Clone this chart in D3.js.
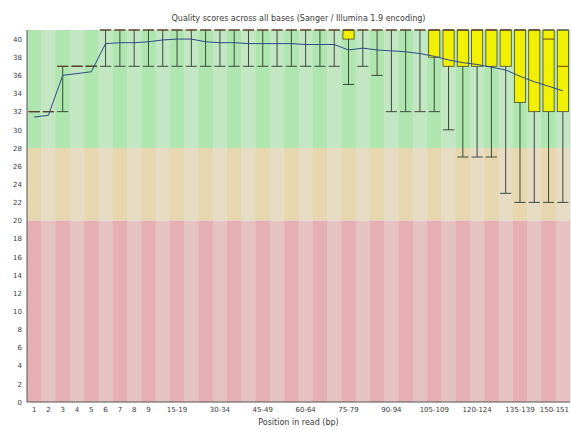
<!DOCTYPE html>
<html>
<head>
<meta charset="utf-8">
<script src="https://cdn.jsdelivr.net/npm/d3@7"></script>
<style>
  html, body { margin: 0; padding: 0; background: #ffffff; }
  svg { display: block; }
  text { font-family: "DejaVu Sans", sans-serif; fill: #3a3a3a; }
</style>
</head>
<body>
<svg id="chart" width="571" height="430"></svg>
<script>
// ---- data ----
const categories = ["1","2","3","4","5","6","7","8","9",
  "10-14","15-19","20-24","25-29","30-34","35-39","40-44","45-49","50-54","55-59",
  "60-64","65-69","70-74","75-79","80-84","85-89","90-94","95-99","100-104","105-109",
  "110-114","115-119","120-124","125-129","130-134","135-139","140-144","145-149","150-151"];
const xTickLabels = ["1","2","3","4","5","6","7","8","9","15-19","30-34","45-49","60-64",
  "75-79","90-94","105-109","120-124","135-139","150-151"];
const yTickLabels = [0,2,4,6,8,10,12,14,16,18,20,22,24,26,28,30,32,34,36,38,40];
const meanQ = [31.4,31.6,36.0,36.2,36.4,39.5,39.6,39.6,39.7,39.9,40.0,40.0,39.7,39.6,39.6,39.5,39.5,39.5,39.5,39.4,39.4,39.4,
  38.8,39.0,38.8,38.7,38.6,38.4,38.1,37.7,37.4,37.2,36.9,36.6,35.9,35.3,34.8,34.3];
const p10Q = [32,32,32,37,37,37,37,37,37,37,37,37,37,37,37,37,37,37,37,37,37,37,
  35,37,36,32,32,32,32,30,27,27,27,23,22,22,22,22];
const q1Q = [32,32,37,37,37,41,41,41,41,41,41,41,41,41,41,41,41,41,41,41,41,41,
  40,41,41,41,41,41,38,37,37,37,37,37,33,32,32,32];
const medianQ = [32,32,37,37,37,41,41,41,41,41,41,41,41,41,41,41,41,41,41,41,41,41,
  41,41,41,41,41,41,41,41,41,41,41,41,41,41,40,37];
const q3Q = [32,32,37,37,37,41,41,41,41,41,41,41,41,41,41,41,41,41,41,41,41,41,
  41,41,41,41,41,41,41,41,41,41,41,41,41,41,41,41];
const p90Q = [32,32,37,37,37,41,41,41,41,41,41,41,41,41,41,41,41,41,41,41,41,41,
  41,41,41,41,41,41,41,41,41,41,41,41,41,41,41,41];
const zones = [
  {from: 28, to: 41, light: "rgb(195,230,195)", dark: "rgb(175,230,175)"},
  {from: 20, to: 28, light: "rgb(230,220,195)", dark: "rgb(230,215,175)"},
  {from: 0,  to: 20, light: "rgb(230,195,195)", dark: "rgb(230,175,180)"}
];
const titleText = "Quality scores across all bases (Sanger / Illumina 1.9 encoding)";
const xTitle = "Position in read (bp)";

// ---- layout ----
const svg = d3.select("#chart");
const mLeft = 27, mRight = 570, mTop = 30, mBottom = 402;

const x = d3.scaleBand().domain(categories).range([mLeft, mRight]).padding(0);
const y = d3.scaleLinear().domain([0, 41]).range([mBottom, mTop]);
const bw = x.bandwidth();
const boxW = bw * 0.78;

// background stripes
const bg = svg.append("g");
zones.forEach(z => {
  bg.selectAll(null).data(categories).enter().append("rect")
    .attr("x", d => x(d))
    .attr("width", bw + 0.5)
    .attr("y", y(z.to))
    .attr("height", y(z.from) - y(z.to))
    .attr("fill", (d, i) => i % 2 === 0 ? z.dark : z.light);
});

const rows = categories.map((c, i) => ({c, mean: meanQ[i], p10: p10Q[i], q1: q1Q[i], med: medianQ[i], q3: q3Q[i], p90: p90Q[i]}));
const cx = d => x(d.c) + bw / 2;

const g = svg.append("g");
// boxes
g.selectAll(".box").data(rows.filter(d => d.q3 > d.q1)).enter().append("rect")
  .attr("x", d => cx(d) - boxW / 2)
  .attr("width", boxW)
  .attr("y", d => y(d.q3))
  .attr("height", d => y(d.q1) - y(d.q3))
  .attr("fill", "rgb(240,240,0)")
  .attr("stroke", "#4a4a2a")
  .attr("stroke-width", 0.8);
// whiskers
g.selectAll(".lw").data(rows).enter().append("line")
  .attr("x1", cx).attr("x2", cx)
  .attr("y1", d => y(d.p10)).attr("y2", d => y(d.q1))
  .attr("stroke", "#3a4a3a").attr("stroke-width", 1);
g.selectAll(".uw").data(rows).enter().append("line")
  .attr("x1", cx).attr("x2", cx)
  .attr("y1", d => y(d.p90)).attr("y2", d => y(d.q3))
  .attr("stroke", "#3a4a3a").attr("stroke-width", 1);
// caps
g.selectAll(".lc").data(rows).enter().append("line")
  .attr("x1", d => cx(d) - boxW / 2).attr("x2", d => cx(d) + boxW / 2)
  .attr("y1", d => y(d.p10)).attr("y2", d => y(d.p10))
  .attr("stroke", "#3a4a3a").attr("stroke-width", 1);
g.selectAll(".uc").data(rows).enter().append("line")
  .attr("x1", d => cx(d) - boxW / 2).attr("x2", d => cx(d) + boxW / 2)
  .attr("y1", d => y(d.p90)).attr("y2", d => y(d.p90))
  .attr("stroke", "#3a4a3a").attr("stroke-width", 1);
// medians
g.selectAll(".med").data(rows).enter().append("line")
  .attr("x1", d => cx(d) - boxW / 2).attr("x2", d => cx(d) + boxW / 2)
  .attr("y1", d => y(d.med)).attr("y2", d => y(d.med))
  .attr("stroke", "#6a3a20").attr("stroke-width", 1);
// mean line
g.append("path")
  .datum(rows)
  .attr("d", d3.line().x(cx).y(d => y(d.mean)))
  .attr("fill", "none")
  .attr("stroke", "#2a4a8a")
  .attr("stroke-width", 1);

// axes
const xAxis = d3.axisBottom(x).tickValues(xTickLabels).tickSize(0).tickPadding(5);
const xg = svg.append("g").attr("transform", `translate(0,${mBottom})`).call(xAxis);
xg.select(".domain").attr("stroke", "#555").attr("d", `M${mLeft},0H${mRight}`);
xg.selectAll("text").style("font-size", "7px").attr("fill", "#3a3a3a");
// keep the last label inside the picture
xg.selectAll(".tick").filter(d => d === xTickLabels[xTickLabels.length - 1])
  .select("text").attr("text-anchor", "end").attr("x", (mRight - 1) - (x(xTickLabels[xTickLabels.length - 1]) + bw / 2));

const yAxis = d3.axisLeft(y).tickValues(yTickLabels).tickSize(0).tickPadding(5);
const yg = svg.append("g").attr("transform", `translate(${mLeft},0)`).call(yAxis);
yg.select(".domain").attr("stroke", "#555").attr("d", `M0,${mTop}V${mBottom}`);
yg.selectAll("text").style("font-size", "7px").attr("fill", "#3a3a3a");

svg.append("text").attr("x", (mLeft + mRight) / 2).attr("y", 21)
  .attr("text-anchor", "middle").style("font-size", "8px").text(titleText);
svg.append("text").attr("x", (mLeft + mRight) / 2).attr("y", 425)
  .attr("text-anchor", "middle").style("font-size", "8px").text(xTitle);
</script>
</body>
</html>
